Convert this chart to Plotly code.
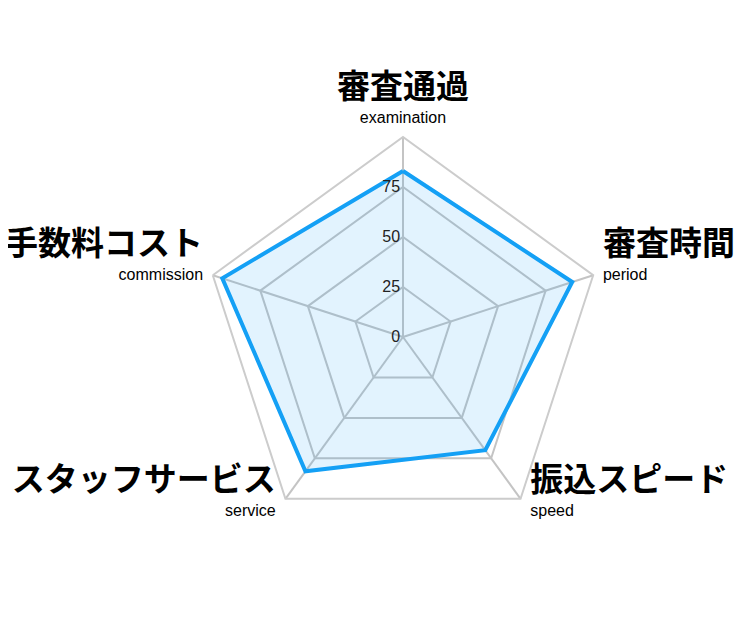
import plotly.graph_objects as go

categories = ["審査通過", "審査時間", "振込スピード", "スタッフサービス", "手数料コスト"]
subtitles = ["examination", "period", "speed", "service", "commission"]
scores = [83, 89, 70, 83, 95]
radial_ticks = [0, 25, 50, 75]

# where each label sits against its corner of the pentagon
label_pos = ['top center', 'middle right', 'middle right', 'middle left', 'middle left']

labels = []
for c, s in zip(categories, subtitles):
    txt = (f"<span style='font-size:33px;font-weight:bold'>{c}</span><br>"
           f"<span style='font-size:16px;font-family:Liberation Sans'>{s}</span>")
    if c in ("審査時間", "手数料コスト"):
        txt += "<br> "
    labels.append(txt)

fig = go.Figure()
fig.add_trace(go.Scatterpolar(
    r=scores + scores[:1],
    theta=categories + categories[:1],
    mode='lines',
    fill='toself',
    fillcolor='rgba(20, 160, 245, 0.12)',
    line=dict(color='rgb(20, 160, 245)', width=4),
    hoverinfo='skip',
    showlegend=False,
))

# axis labels (japanese + english) at the outer corners,
# invisible markers only to push the text off the corner
fig.add_trace(go.Scatterpolar(
    r=[100] * len(categories),
    theta=categories,
    mode='markers+text',
    marker=dict(size=14, opacity=0),
    text=labels,
    textposition=label_pos,
    textfont=dict(size=19, color='black', family='Noto Sans CJK JP, Liberation Sans'),
    cliponaxis=False,
    hoverinfo='skip',
    showlegend=False,
))

fig.update_layout(
    width=750, height=625,
    margin=dict(l=0, r=0, t=0, b=0),
    paper_bgcolor='white',
    font=dict(family='Noto Sans CJK JP, Liberation Sans, Arial', color='black'),
    polar=dict(
        domain=dict(x=[0.26, 0.7933], y=[0.1536, 0.7936]),
        gridshape='linear',
        bgcolor='white',
        radialaxis=dict(
            range=[0, 100], tickvals=radial_ticks, angle=90, tickangle=90,
            side='counterclockwise', ticks='', showline=False,
            gridcolor='#c4c4c4', gridwidth=1.5,
            tickfont=dict(size=16, color='#222', family='Liberation Sans, Arial'),
        ),
        angularaxis=dict(
            categoryarray=categories, tickvals=categories, showticklabels=False,
            rotation=90, direction='clockwise', ticks='',
            showline=True, linecolor='#cccccc', linewidth=2,
            gridcolor='#c4c4c4', gridwidth=1.5,
        ),
    ),
)

fig.write_html("out.html")
